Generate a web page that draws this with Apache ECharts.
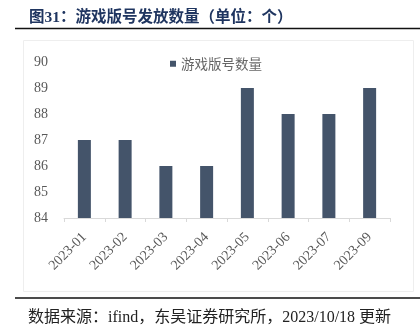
<!DOCTYPE html>
<html><head><meta charset="utf-8">
<script src="https://cdn.jsdelivr.net/npm/echarts@6/dist/echarts.min.js"></script>
<style>html,body{margin:0;padding:0;background:#fff}#c{width:420px;height:334px}</style>
</head><body><div id="c"></div>
<script>
const categories = ['2023-01','2023-02','2023-03','2023-04','2023-05','2023-06','2023-07','2023-09'];
const seriesName = '游戏版号数量';
const values = [87, 87, 86, 86, 89, 88, 88, 89];
const titleText = '图31：游戏版号发放数量（单位：个）';
const sourceText = '数据来源：ifind，东吴证券研究所，2023/10/18 更新';

const chart = echarts.init(document.getElementById('c'), null, {renderer: 'canvas'});
chart.setOption({
  animation: false,
  backgroundColor: '#fff',
  title: [
    {text: titleText, left: 24, top: 5,
     textStyle: {fontFamily: '"Liberation Serif", "Noto Sans CJK SC"', fontWeight: 'bold', fontSize: 15.5, color: '#1f3560'}},
    {text: sourceText, left: 23, top: 305,
     textStyle: {fontFamily: '"Liberation Serif", "Noto Sans CJK SC"', fontWeight: 'normal', fontSize: 16, color: '#222'}}
  ],
  graphic: [
    {type: 'line', shape: {x1: 15, y1: 28.5, x2: 420, y2: 28.5}, style: {stroke: '#111', lineWidth: 1.5}},
    {type: 'line', shape: {x1: 15, y1: 298, x2: 420, y2: 298}, style: {stroke: '#111', lineWidth: 1.5}},
    {type: 'rect', shape: {x: 23.5, y: 40.5, width: 390, height: 251}, style: {fill: 'none', stroke: '#eeeeee', lineWidth: 1}}
  ],
  legend: {
    data: [seriesName], left: 170, top: 57, padding: 0, itemWidth: 6, itemHeight: 6, itemGap: 4,
    icon: 'rect',
    textStyle: {fontFamily: '"Noto Sans CJK SC"', fontSize: 13.5, color: '#666'}
  },
  grid: {left: 64, right: 30, top: 62, bottom: 116},
  xAxis: {
    type: 'category', data: categories,
    axisLine: {lineStyle: {color: '#d9d9d9'}},
    axisTick: {show: true, lineStyle: {color: '#d9d9d9'}, length: 4},
    axisLabel: {rotate: 45, fontFamily: 'Liberation Serif', fontSize: 14, color: '#595959', margin: 17}
  },
  yAxis: {
    type: 'value', min: 84, max: 90, interval: 1,
    axisLine: {show: false}, axisTick: {show: false}, splitLine: {show: false},
    axisLabel: {fontFamily: 'Liberation Serif', fontSize: 14, color: '#595959', margin: 16}
  },
  series: [{
    name: seriesName, type: 'bar', data: values, barWidth: 13,
    itemStyle: {color: '#44546a'}
  }]
});
</script></body></html>
